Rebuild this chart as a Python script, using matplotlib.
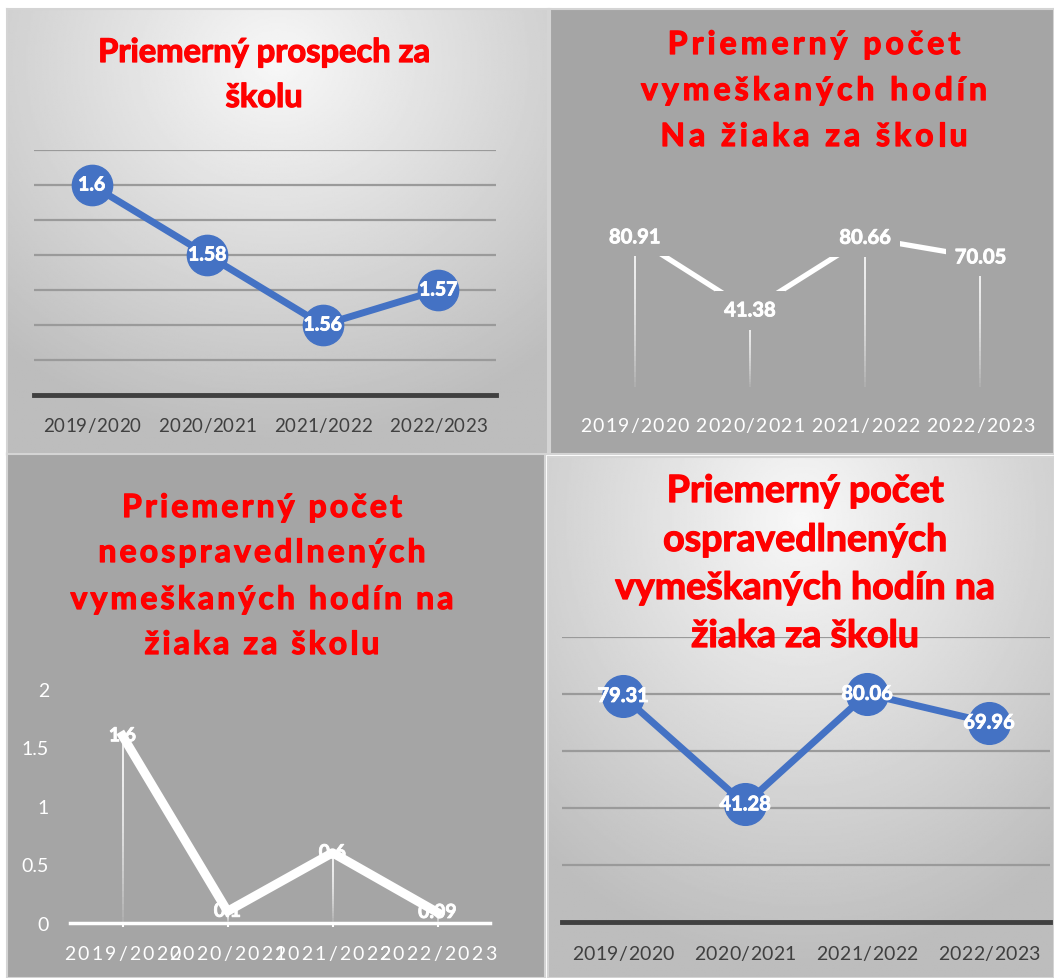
import matplotlib
matplotlib.use("Agg")
import matplotlib.pyplot as plt
import matplotlib.patheffects as pe
import numpy as np
from matplotlib.collections import LineCollection
from matplotlib.font_manager import FontProperties, findfont, get_font
from matplotlib.transforms import IdentityTransform
from matplotlib.ticker import MultipleLocator

# --- data ---
years = ["2019/2020", "2020/2021", "2021/2022", "2022/2023"]
prospech = [1.6, 1.58, 1.56, 1.57]
vymeskane = [80.91, 41.38, 80.66, 70.05]
neospravedlnene = [1.6, 0.1, 0.6, 0.09]
ospravedlnene = [79.31, 41.28, 80.06, 69.96]

title1 = ["Priemerný prospech za", "školu"]
title2 = ["Priemerný počet", "vymeškaných hodín", "Na žiaka za školu"]
title3 = ["Priemerný počet", "neospravedlnených", "vymeškaných hodín na", "žiaka za školu"]
title4 = ["Priemerný počet", "ospravedlnených", "vymeškaných hodín na", "žiaka za školu"]

W, H, DPI = 1054, 979, 100
RED = "#ff0000"
BLUE = "#4472c4"
GRAY = "#a5a5a5"
DARK = "#404040"
FONT = "Lato"

fig = plt.figure(figsize=(W / DPI, H / DPI), dpi=DPI)
fig.patch.set_facecolor("white")


def thick(color, lw=0.9):
    # fake a heavier weight, Calibri bold looks fatter than Lato bold
    return [pe.withStroke(linewidth=lw, foreground=color)]


def add_ax(x0, y0, x1, y1):
    # pixel box measured from top-left corner
    return fig.add_axes([x0 / W, 1 - y1 / H, (x1 - x0) / W, (y1 - y0) / H])


def panel_bg(x0, y0, x1, y1, gradient):
    ax = add_ax(x0, y0, x1, y1)
    if gradient:
        yy, xx = np.mgrid[0:1:300j, 0:1:300j]
        d = np.hypot((xx - 0.5) * 1.1, yy - 0.12)
        img = np.clip(0.97 - 0.27 * d, 0.74, 1.0)
        ax.imshow(img, cmap="gray", vmin=0, vmax=1, extent=[0, 1, 0, 1],
                  aspect="auto", origin="upper")
    else:
        ax.set_facecolor(GRAY)
    ax.set_xticks([])
    ax.set_yticks([])
    for sp in ax.spines.values():
        sp.set_color("#d4d4d4")
        sp.set_linewidth(1.5)
    return ax


def px(yfromtop):
    return H - yfromtop


def spaced_text(x, y, s, size, track, color, weight="bold", effects=None):
    # x center, y baseline, display pixels (origin bottom-left)
    prop = FontProperties(family=FONT, weight=weight, size=size)
    font = get_font(findfont(prop))
    font.set_size(size, DPI)
    adv = [font.load_char(ord(c)).linearHoriAdvance / 65536 for c in s]
    total = sum(adv) + track * (len(s) - 1)
    cx = x - total / 2
    for c, a in zip(s, adv):
        fig.text(cx, y, c, fontproperties=prop, color=color, ha="left",
                 va="baseline", transform=IdentityTransform(), path_effects=effects)
        cx += a + track


def plain_title(lines, xc, baselines, size):
    for s, b in zip(lines, baselines):
        fig.text(xc / W, px(b) / H, s, color=RED, fontsize=size, fontweight="bold",
                 family=FONT, ha="center", va="baseline", path_effects=thick(RED))


def drop_lines(ax, xs, ys, lw):
    for x, y in zip(xs, ys):
        t = np.linspace(0, 1, 30)
        segs = [[(x, y * (1 - a)), (x, y * (1 - b))] for a, b in zip(t[:-1], t[1:])]
        cols = [(1, 1, 1, 0.85 - 0.8 * a ** 2) for a in t[:-1]]
        ax.add_collection(LineCollection(segs, colors=cols, linewidths=lw, zorder=2))


def cat_labels(ax, base, size, color, track=0.0, weight="normal"):
    for i, s in enumerate(years):
        x = ax.transData.transform((i, 0))[0]
        spaced_text(x, px(base), s, size, track, color, weight)


def clean(ax):
    ax.patch.set_visible(False)
    for sp in ax.spines.values():
        sp.set_visible(False)
    ax.set_xticks([])
    ax.set_yticks([])
    ax.set_xlim(-0.5, 3.5)


# ---------------- panel backgrounds ----------------
panel_bg(7, 10, 548, 455, True)
panel_bg(550, 10, 1054, 455, False)
panel_bg(7, 455, 545, 979, False)
panel_bg(548, 458, 1054, 979, True)

x = np.arange(len(years))

# ---------------- panel 1 ----------------
ax1 = add_ax(34, 151, 496, 396)
clean(ax1)
ax1.set_ylim(1.54, 1.61)
ax1.yaxis.set_major_locator(MultipleLocator(0.01))
ax1.tick_params(axis="y", length=0, labelleft=False)
ax1.grid(axis="y", color="#9a9a9a", lw=1.6)
ax1.set_axisbelow(True)
glines = ax1.get_ygridlines()
if len(glines):
    glines[-1].set_alpha(0.25)
ax1.spines["bottom"].set_visible(True)
ax1.spines["bottom"].set_color(DARK)
ax1.spines["bottom"].set_linewidth(3.5)
ax1.plot(x, prospech, color=BLUE, lw=5, marker="o", ms=29, zorder=3, clip_on=False)
for i, v in enumerate(prospech):
    ax1.text(i, v, f"{v:g}", color="white", fontsize=14, fontweight="bold",
             family=FONT, ha="center", va="center", zorder=4,
             path_effects=thick("white", 0.6))
fig.canvas.draw()
cat_labels(ax1, 432, 13.5, DARK, track=0.3)
plain_title(title1, 264, [63, 108], 23.5)

# ---------------- panel 2 ----------------
ax2 = add_ax(577, 203, 1038, 388)
clean(ax2)
ax2.set_ylim(0, 100)
ax2.plot(x, vymeskane, color="white", lw=3.8, zorder=3, solid_capstyle="butt")
drop_lines(ax2, x, vymeskane, 1.4)
for i, v in enumerate(vymeskane):
    ax2.text(i, v, f"{v:.2f}", color="white", fontsize=14.5, fontweight="bold",
             family=FONT, ha="center", va="center", zorder=5,
             path_effects=thick("white", 0.6),
             bbox=dict(boxstyle="square,pad=0.45", fc=GRAY, ec="none"))
cat_labels(ax2, 432, 14, "white", track=1.2)
for s, b in zip(title2, [55, 101, 147]):
    spaced_text(814, px(b), s, 23, 4.0, RED, effects=thick(RED))

# ---------------- panel 3 ----------------
ax3 = add_ax(70, 690, 490, 924)
ax3.patch.set_visible(False)
for k in ["top", "right", "left"]:
    ax3.spines[k].set_visible(False)
ax3.spines["bottom"].set_color("white")
ax3.spines["bottom"].set_linewidth(2.5)
ax3.set_xlim(-0.5, 3.5)
ax3.set_ylim(0, 2)
ax3.yaxis.set_major_locator(MultipleLocator(0.5))
ax3.yaxis.set_major_formatter(lambda v, p: f"{v:g}")
ax3.tick_params(axis="y", length=0, pad=15, labelcolor="white", labelsize=14)
for lab in ax3.get_yticklabels():
    lab.set_family(FONT)
ax3.set_xticks(x)
ax3.set_xticklabels([])
ax3.tick_params(axis="x", length=3, width=1.5, color="white", direction="out")
drop_lines(ax3, x, neospravedlnene, 1.4)
for i, v in enumerate(neospravedlnene):
    ax3.text(i, v, f"{v:g}", color="white", fontsize=14, fontweight="bold",
             family=FONT, ha="center", va="center", zorder=3,
             path_effects=thick("white", 0.6))
ax3.plot(x, neospravedlnene, color="white", lw=6.5, zorder=4, clip_on=False)
fig.canvas.draw()
cat_labels(ax3, 960, 14, "white", track=2.2)
for s, b in zip(title3, [518, 563, 610, 655]):
    spaced_text(262, px(b), s, 23, 3.1, RED, effects=thick(RED))

# ---------------- panel 4 ----------------
ax4 = add_ax(562, 638, 1050, 923)
clean(ax4)
ax4.set_ylim(0, 100)
ax4.yaxis.set_major_locator(MultipleLocator(20))
ax4.tick_params(axis="y", length=0, labelleft=False)
ax4.grid(axis="y", color="#9a9a9a", lw=1.6)
ax4.set_axisbelow(True)
glines = ax4.get_ygridlines()
if len(glines):
    glines[-1].set_alpha(0.25)
ax4.spines["bottom"].set_visible(True)
ax4.spines["bottom"].set_color(DARK)
ax4.spines["bottom"].set_linewidth(3.5)
ax4.plot(x, ospravedlnene, color=BLUE, lw=5, marker="o", ms=30, zorder=3, clip_on=False)
for i, v in enumerate(ospravedlnene):
    ax4.text(i, v, f"{v:.2f}", color="white", fontsize=14.5, fontweight="bold",
             family=FONT, ha="center", va="center", zorder=4,
             path_effects=thick("white", 0.6))
fig.canvas.draw()
cat_labels(ax4, 960, 14, DARK, track=0.3)
plain_title(title4, 805, [503, 552, 600, 648], 27)

fig.savefig("out.png", dpi=DPI, facecolor=fig.get_facecolor())
